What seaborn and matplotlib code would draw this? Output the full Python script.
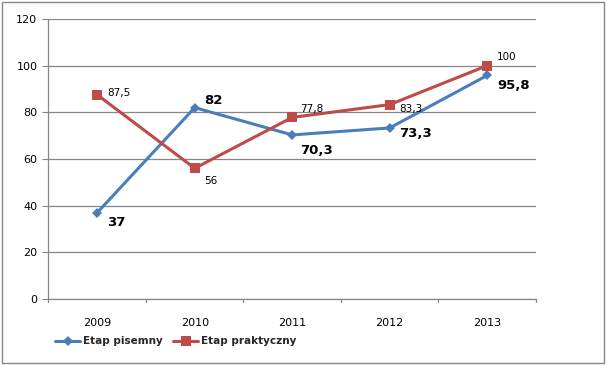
import matplotlib
matplotlib.use("Agg")
import matplotlib.pyplot as plt
import seaborn as sns
import pandas as pd

# chart data
years = ["2009", "2010", "2011", "2012", "2013"]
pisemny = [37, 82, 70.3, 73.3, 95.8]
praktyczny = [87.5, 56, 77.8, 83.3, 100]
yticks = [0, 20, 40, 60, 80, 100, 120]

blue = "#4A7EBB"
red = "#BE4B48"

sns.set_style("white")
plt.rcParams["font.family"] = ["DejaVu Sans"]

df = pd.DataFrame({"rok": years, "Etap pisemny": pisemny, "Etap praktyczny": praktyczny})
long = df.melt(id_vars="rok", var_name="etap", value_name="wynik")

fig = plt.figure(figsize=(6.09, 3.65), dpi=100)
ax = fig.add_axes([0.0796, 0.181, 0.8004, 0.767])

sns.lineplot(data=long, x="rok", y="wynik", hue="etap", style="etap",
             palette={"Etap pisemny": blue, "Etap praktyczny": red},
             markers={"Etap pisemny": "D", "Etap praktyczny": "s"},
             dashes=False, linewidth=2.2, markeredgewidth=0, ax=ax,
             markersize=7, sort=False)
# make the diamond a bit smaller like the original
for line in ax.lines:
    if line.get_marker() == "D":
        line.set_markersize(5.5)

def fmt(v):
    return ("%g" % v).replace(".", ",")

# data labels, offsets in points
blue_off = [(7, -7), (7, 5), (6, -11), (7, -4), (7, -7)]
red_off = [(7, 1), (7, -9), (6, 6), (7, -3), (7, 6)]
for i, v in enumerate(pisemny):
    ax.annotate(fmt(v), (i, v), xytext=blue_off[i], textcoords="offset points",
                fontsize=9.5, fontweight="bold", va="center", ha="left", color="black")
for i, v in enumerate(praktyczny):
    ax.annotate(fmt(v), (i, v), xytext=red_off[i], textcoords="offset points",
                fontsize=7.5, va="center", ha="left", color="black")

ax.set_xlim(-0.5, len(years) - 0.5)
ax.set_ylim(0, 120)
ax.set_yticks(yticks)
ax.set_yticklabels([str(t) for t in yticks], fontsize=8, color="black")
ax.set_xticks(range(len(years)))
ax.set_xticklabels(years, fontsize=8, color="black")
ax.set_xlabel("")
ax.set_ylabel("")
ax.grid(axis="y", color="#878787", linewidth=0.9)
ax.set_axisbelow(True)
for s in ["top", "right"]:
    ax.spines[s].set_visible(False)
for s in ["left", "bottom"]:
    ax.spines[s].set_color("#878787")
    ax.spines[s].set_linewidth(0.9)
ax.tick_params(axis="y", left=True, length=4, color="#878787", pad=4)
ax.tick_params(axis="x", bottom=False, pad=10)
# category boundary ticks on x axis
for b in [k - 0.5 for k in range(len(years) + 1)]:
    ax.plot([b, b], [0, -1.3], color="#878787", lw=0.9, clip_on=False)

handles, labels = ax.get_legend_handles_labels()
ax.legend(handles, labels, loc="lower left", bbox_to_anchor=(0.075, 0.025),
          bbox_transform=fig.transFigure, ncol=2, frameon=False,
          handlelength=2.4, columnspacing=1.0, handletextpad=0.3,
          prop={"weight": "bold", "size": 7.5})

# outer border
fig.patches.append(plt.Rectangle((0.004, 0.006), 0.988, 0.988, transform=fig.transFigure,
                                 fill=False, edgecolor="#878787", linewidth=1))

fig.savefig("out.png", dpi=100)
